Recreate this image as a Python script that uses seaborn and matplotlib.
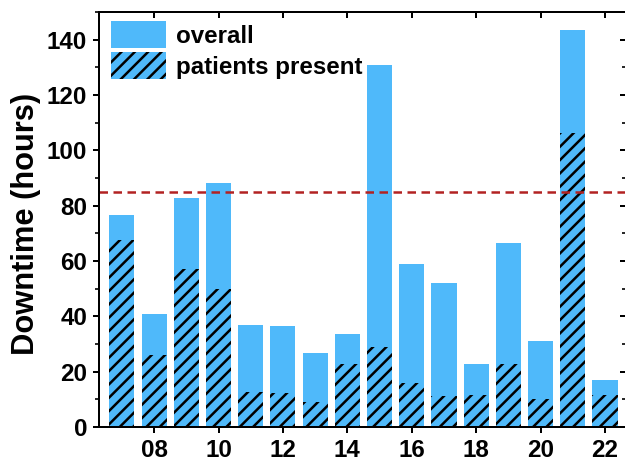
"""Downtime per year: overall vs. with patients present."""

import matplotlib
matplotlib.use("Agg")
import matplotlib.pyplot as plt
import matplotlib.patches as mpatches
from matplotlib.ticker import MultipleLocator
import seaborn as sns

years = [7, 8, 9, 10, 11, 12, 13, 14, 15, 16, 17, 18, 19, 20, 21, 22]
overall = [76.8, 40.8, 82.9, 88.2, 36.8, 36.5, 26.6, 33.6, 130.7, 58.8, 52.2, 22.6, 66.5, 31.0, 143.4, 16.9]
patients_present = [67.5, 26.0, 57.0, 49.7, 12.7, 12.4, 8.9, 22.6, 29.0, 15.9, 11.3, 11.5, 22.6, 10.3, 106.2, 11.5]
threshold = 85
xtick_years = [8, 10, 12, 14, 16, 18, 20, 22]
xtick_labels = [f"{y:02d}" for y in xtick_years]

BLUE = "#4FB9FA"
RED = "#B22222"
DPI = 120

sns.set_style("ticks")
plt.rcParams["font.family"] = ["Liberation Sans", "DejaVu Sans"]
plt.rcParams["font.weight"] = "bold"
plt.rcParams["hatch.linewidth"] = 1.5
for key in ("text.color", "axes.labelcolor", "xtick.color", "ytick.color", "axes.edgecolor"):
    plt.rcParams[key] = "black"

fig = plt.figure(figsize=(625 / DPI, 462 / DPI), dpi=DPI)
ax = fig.add_axes([99 / 625, 35 / 462, 527 / 625, 415 / 462])

sns.barplot(x=years, y=overall, native_scale=True, color=BLUE, saturation=1,
            width=0.78, linewidth=0, ax=ax)
sns.barplot(x=years, y=patients_present, native_scale=True, color=BLUE, saturation=1,
            width=0.78, linewidth=0, edgecolor="black", hatch="///", ax=ax)

ax.axhline(threshold, color=RED, linewidth=1.5, linestyle=(0, (3.4, 2.2)))

ax.set_xlim(6.29, 22.65)
ax.set_ylim(0, 150)
ax.set_xticks(xtick_years)
ax.set_xticklabels(xtick_labels)
ax.yaxis.set_major_locator(MultipleLocator(20))
ax.yaxis.set_minor_locator(MultipleLocator(10))
ax.set_ylabel("Downtime (hours)", fontsize=18.5, fontweight="bold")
ax.yaxis.set_label_coords(-0.110, 0.49)

for s in ax.spines.values():
    s.set_linewidth(1.2)
    s.set_visible(True)
ax.tick_params(axis="both", which="major", direction="out", length=3.6, width=1.2,
               labelsize=14.5, pad=3.5)
ax.tick_params(axis="y", which="minor", direction="out", length=2.2, width=1.0)
ax.tick_params(axis="x", which="minor", bottom=False)

top = ax.secondary_xaxis("top")
top.set_xticks(xtick_years)
top.tick_params(direction="in", length=3.6, width=1.2, labeltop=False)
top.spines["top"].set_linewidth(1.2)
right = ax.secondary_yaxis("right")
right.yaxis.set_major_locator(MultipleLocator(20))
right.yaxis.set_minor_locator(MultipleLocator(10))
right.tick_params(which="major", direction="in", length=3.6, width=1.2, labelright=False)
right.tick_params(which="minor", direction="in", length=2.2, width=1.0)

handles = [
    mpatches.Patch(facecolor=BLUE, linewidth=0, label="overall"),
    mpatches.Patch(facecolor=BLUE, edgecolor="black", linewidth=0, hatch="///",
                   label="patients present"),
]
ax.legend(handles=handles, loc="upper left", bbox_to_anchor=(0.023, 0.978),
          frameon=False, borderpad=0, borderaxespad=0, handlelength=2.28,
          handleheight=1.35, labelspacing=0.17, handletextpad=0.41,
          prop={"size": 14.5, "weight": "bold"})

fig.savefig("out.png", dpi=DPI)
